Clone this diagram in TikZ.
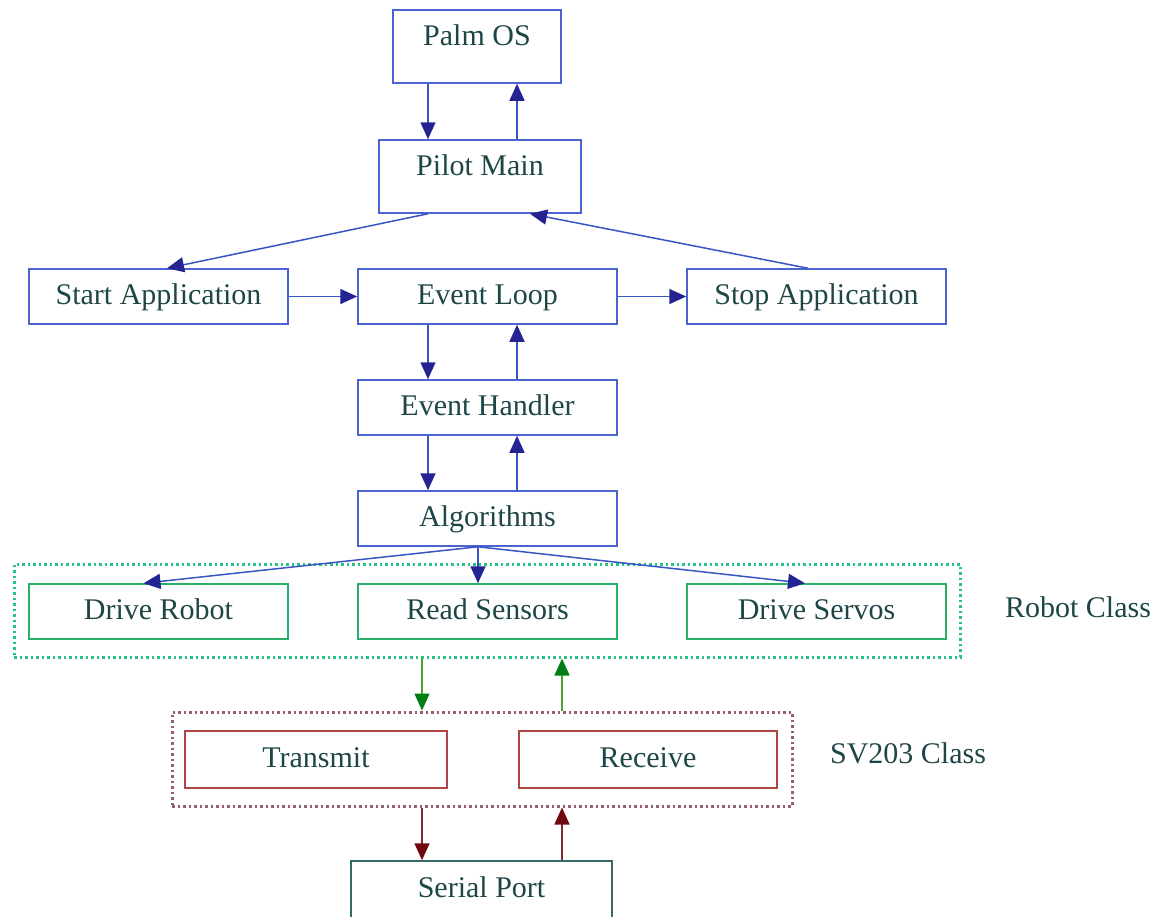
\documentclass[tikz,border=0pt]{standalone}
\usepackage{fontspec}
\setmainfont{Liberation Serif}
\usetikzlibrary{arrows.meta}
\definecolor{boxblue}{RGB}{75,100,210}
\definecolor{lineblue}{RGB}{55,85,195}
\definecolor{headblue}{RGB}{35,35,145}
\definecolor{txt}{RGB}{30,70,70}
\definecolor{boxgreen}{RGB}{40,175,105}
\definecolor{dotgreen}{RGB}{40,195,130}
\definecolor{linegreen}{RGB}{70,165,45}
\definecolor{headgreen}{RGB}{0,125,20}
\definecolor{boxred}{RGB}{175,70,70}
\definecolor{dotred}{RGB}{150,95,105}
\definecolor{linered}{RGB}{125,45,45}
\definecolor{headred}{RGB}{110,10,15}
\definecolor{serialc}{RGB}{55,105,105}
\begin{document}
\begin{tikzpicture}[x=1pt,y=-1pt]
\tikzset{
  box/.style={draw=boxblue, line width=1.5pt, minimum width=259pt, minimum height=55pt,
    inner sep=0pt, text=txt, text height=15pt, text depth=0pt, font=\fontsize{30}{36}\selectfont},
  tallbox/.style={box, minimum height=73pt, text height=11pt, text depth=13pt},
  gbox/.style={box, draw=boxgreen},
  rbox/.style={box, draw=boxred, minimum height=57pt},
  grp/.style={line width=3pt, dash pattern=on 2.5pt off 3pt, inner sep=0pt},
  lbl/.style={text=txt, font=\fontsize{30}{36}\selectfont},
  link/.style={draw=lineblue, line width=1.5pt, -{Triangle[length=17pt,width=15pt,color=headblue]}},
  glink/.style={draw=linegreen, line width=1.5pt, -{Triangle[length=17pt,width=15pt,color=headgreen]}},
  rlink/.style={draw=linered, line width=1.5pt, -{Triangle[length=17pt,width=15pt,color=headred]}}
}
\useasboundingbox (0,0) rectangle (1156,916);
\coordinate (c1) at (428,0);
\coordinate (c2) at (517,0);
\coordinate (c3) at (422,0);
\coordinate (c4) at (562,0);
\node[tallbox, minimum width=168pt] (palm) at (477,46.5) {Palm OS};
\node[tallbox, minimum width=202pt] (pilot) at (480,176.5) {Pilot Main};
\node[box] (start) at (158.5,296.5) {Start Application};
\node[box] (loop) at (487.5,296.5) {Event Loop};
\node[box] (stop) at (816.5,296.5) {Stop Application};
\node[box] (handler) at (487.5,407.5) {Event Handler};
\node[box] (algo) at (487.5,518.5) {Algorithms};
\node[grp, draw=dotgreen, minimum width=946pt, minimum height=93pt] (robot) at (487,610.5) {};
\node[gbox] (drive) at (158.5,611.5) {Drive Robot};
\node[gbox] (sensors) at (487.5,611.5) {Read Sensors};
\node[gbox] (servos) at (816.5,611.5) {Drive Servos};
\node[lbl] (robotlbl) at (1078,607) {Robot Class};
\node[grp, draw=dotred, minimum width=620pt, minimum height=94pt] (sv) at (482,759) {};
\node[rbox, minimum width=262pt] (tx) at (316,759.5) {Transmit};
\node[rbox, minimum width=258pt] (rx) at (648,759.5) {Receive};
\node[lbl] (svlbl) at (908,753) {SV203 Class};
\node[box, draw=serialc, minimum width=261pt, minimum height=58pt] (serial) at (481.5,890) {Serial Port};
\draw[link] (palm.south -| c1) -- (pilot.north -| c1);
\draw[link] (pilot.north -| c2) -- (palm.south -| c2);
\draw[link] (pilot.south -| c1) -- ([xshift=8.5pt]start.north);
\draw[link] ([xshift=-8.5pt]stop.north) -- ([xshift=50pt]pilot.south);
\draw[link] (start) -- (loop);
\draw[link] (loop) -- (stop);
\draw[link] (loop.south -| c1) -- (handler.north -| c1);
\draw[link] (handler.north -| c2) -- (loop.south -| c2);
\draw[link] (handler.south -| c1) -- (algo.north -| c1);
\draw[link] (algo.north -| c2) -- (handler.south -| c2);
\coordinate (fork) at ([xshift=-9.5pt]algo.south);
\draw[link] (fork) -- ([xshift=-15pt]drive.north);
\draw[link] (fork) -- (sensors.north -| fork);
\draw[link] (fork) -- ([xshift=-11.5pt]servos.north);
\draw[glink] (robot.south -| c3) -- (sv.north -| c3);
\draw[glink] (sv.north -| c4) -- (robot.south -| c4);
\draw[rlink] (sv.south -| c3) -- (serial.north -| c3);
\draw[rlink] (serial.north -| c4) -- (sv.south -| c4);
\end{tikzpicture}
\end{document}
